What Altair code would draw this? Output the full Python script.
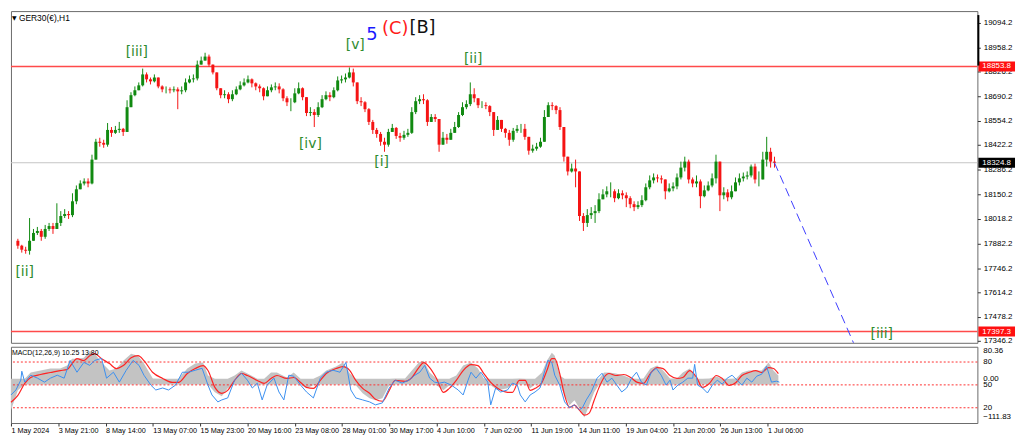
import json
import altair as alt
import numpy as np
import pandas as pd

# ---------------- data ----------------
time_labels = ["1 May 2024", "3 May 21:00", "8 May 14:00", "13 May 07:00", "15 May 23:00",
               "20 May 16:00", "23 May 08:00", "28 May 01:00", "30 May 17:00", "4 Jun 10:00",
               "7 Jun 02:00", "11 Jun 19:00", "14 Jun 11:00", "19 Jun 04:00", "21 Jun 20:00",
               "26 Jun 13:00", "1 Jul 06:00"]
label_every = 12          # bars between time labels
label_start = -0.5

first_open = 17896
close = [17869, 17847, 17841, 17896, 17939, 17950, 17918, 17961, 17977, 17961,
         17994, 18032, 18043, 18037, 18113, 18179, 18211, 18222, 18211, 18342,
         18440, 18434, 18424, 18505, 18489, 18505, 18511, 18494, 18630, 18696,
         18723, 18750, 18810, 18783, 18772, 18793, 18744, 18728, 18728, 18723,
         18728, 18717, 18723, 18766, 18783, 18788, 18864, 18886, 18908, 18864,
         18821, 18734, 18696, 18701, 18674, 18701, 18728, 18750, 18766, 18783,
         18761, 18744, 18734, 18690, 18723, 18739, 18744, 18728, 18679, 18657,
         18657, 18706, 18734, 18685, 18598, 18603, 18587, 18630, 18674, 18696,
         18685, 18723, 18777, 18783, 18793, 18821, 18766, 18663, 18657, 18619,
         18549, 18505, 18483, 18440, 18424, 18494, 18516, 18472, 18462, 18478,
         18489, 18603, 18663, 18674, 18668, 18549, 18576, 18565, 18424, 18462,
         18451, 18489, 18521, 18587, 18630, 18647, 18701, 18679, 18641, 18641,
         18636, 18603, 18505, 18560, 18511, 18489, 18451, 18500, 18511, 18511,
         18467, 18391, 18402, 18413, 18440, 18576, 18641, 18636, 18614, 18521,
         18358, 18277, 18293, 18277, 18032, 17994, 18037, 18048, 18059, 18124,
         18151, 18168, 18168, 18130, 18157, 18146, 18130, 18097, 18081, 18092,
         18119, 18190, 18228, 18244, 18239, 18233, 18168, 18184, 18195, 18244,
         18298, 18331, 18233, 18211, 18222, 18141, 18173, 18200, 18239, 18331,
         18146, 18162, 18135, 18168, 18217, 18239, 18249, 18255, 18304, 18233,
         18233, 18342, 18385, 18331, 18324.8]
high = [17907, 17874, 17863, 18021, 17961, 17972, 17961, 17983, 17994, 17994,
        18102, 18059, 18070, 18059, 18157, 18200, 18228, 18239, 18239, 18369,
        18456, 18462, 18451, 18543, 18521, 18527, 18549, 18516, 18668, 18712,
        18744, 18766, 18842, 18821, 18793, 18810, 18788, 18750, 18744, 18739,
        18744, 18739, 18744, 18788, 18804, 18810, 18886, 18908, 18929, 18919,
        18864, 18821, 18734, 18723, 18712, 18723, 18744, 18772, 18788, 18804,
        18788, 18766, 18755, 18739, 18744, 18755, 18766, 18761, 18734, 18690,
        18679, 18734, 18766, 18739, 18685, 18630, 18619, 18657, 18696, 18717,
        18712, 18739, 18799, 18804, 18815, 18848, 18842, 18766, 18685, 18663,
        18625, 18560, 18516, 18494, 18462, 18511, 18538, 18521, 18489, 18500,
        18511, 18630, 18685, 18696, 18701, 18674, 18592, 18592, 18565, 18494,
        18483, 18511, 18549, 18603, 18657, 18668, 18766, 18734, 18679, 18663,
        18657, 18641, 18603, 18581, 18560, 18516, 18505, 18516, 18532, 18538,
        18538, 18467, 18424, 18434, 18462, 18614, 18657, 18657, 18641, 18630,
        18521, 18358, 18320, 18342, 18277, 18048, 18070, 18081, 18092, 18157,
        18179, 18195, 18217, 18179, 18179, 18173, 18162, 18141, 18113, 18113,
        18146, 18211, 18255, 18266, 18260, 18255, 18233, 18211, 18217, 18266,
        18331, 18358, 18342, 18244, 18255, 18233, 18200, 18222, 18266, 18369,
        18331, 18190, 18179, 18200, 18244, 18266, 18271, 18277, 18315, 18320,
        18277, 18385, 18467, 18407, 18358]
low = [17852, 17831, 17825, 17820, 17907, 17928, 17896, 17907, 17950, 17934,
       17961, 17977, 18021, 18016, 18026, 18097, 18179, 18200, 18190, 18206,
       18342, 18413, 18407, 18413, 18467, 18483, 18489, 18472, 18494, 18657,
       18690, 18723, 18744, 18766, 18755, 18766, 18734, 18712, 18706, 18706,
       18712, 18619, 18701, 18712, 18761, 18766, 18777, 18864, 18886, 18853,
       18810, 18723, 18679, 18679, 18652, 18663, 18696, 18723, 18744, 18761,
       18739, 18723, 18712, 18668, 18690, 18712, 18723, 18706, 18663, 18636,
       18608, 18652, 18701, 18668, 18581, 18581, 18521, 18576, 18625, 18668,
       18663, 18679, 18717, 18761, 18766, 18788, 18744, 18647, 18636, 18603,
       18532, 18483, 18462, 18418, 18385, 18413, 18494, 18456, 18440, 18451,
       18467, 18483, 18592, 18647, 18647, 18527, 18549, 18549, 18385, 18429,
       18429, 18462, 18489, 18516, 18581, 18619, 18636, 18657, 18625, 18625,
       18619, 18581, 18472, 18516, 18494, 18462, 18418, 18440, 18489, 18489,
       18451, 18369, 18380, 18391, 18407, 18440, 18576, 18614, 18592, 18505,
       18331, 18255, 18271, 18190, 18005, 17950, 17972, 18016, 17994, 18048,
       18124, 18135, 18135, 18108, 18124, 18124, 18081, 18075, 18059, 18070,
       18081, 18113, 18179, 18211, 18217, 18211, 18124, 18162, 18168, 18179,
       18233, 18277, 18211, 18190, 18190, 18075, 18135, 18168, 18190, 18211,
       18059, 18124, 18113, 18124, 18168, 18200, 18222, 18233, 18244, 18211,
       18195, 18266, 18304, 18298, 18298]

price_ticks = [19094.2, 18958.2, 18826.2, 18690.2, 18554.2, 18422.2, 18286.2,
               18150.2, 18018.2, 17882.2, 17746.2, 17614.2, 17478.2, 17346.2]
red_levels = [18853.8, 17397.3]
last_price = 18324.8
price_min, price_max = 17335.5, 19157.9

projection_t = [194, 216]
projection_p = [18324.8, 17250]

wave_text = ["[ii]", "[iii]", "[iv]", "[v]", "5", "(C)", "[B]", "[i]", "[ii]", "[iii]"]
wave_t = [1.75, 30.5, 75, 86.5, 90.75, 96.75, 103.75, 93.25, 116.75, 221.5]
wave_p = [17727, 18935, 18429, 18973, 19027, 19060, 19065, 18331, 18897, 17384]
wave_color = ["#2e8b2e", "#2e8b2e", "#2e8b2e", "#2e8b2e", "#1a1aff", "#ff1a1a", "#111111",
              "#2e8b2e", "#2e8b2e", "#2e8b2e"]
wave_size = [14, 14, 14, 14, 18, 18, 18, 14, 14, 14]

macd_t = [-0.5, 1.25, 3, 4.5, 7, 9.5, 12, 13.75, 15, 16.25, 18, 19.5, 20.75, 22.5, 24.5, 26.25,
          28, 30, 31.75, 33.25, 35.5, 38, 40.5, 42, 44.25, 46.25, 48.25, 49.5, 51.25, 53, 54.5,
          56.25, 58, 59.5, 62, 63.75, 65.5, 67, 69.5, 71.25, 73, 74.5, 76.25, 78, 79.5, 82,
          83.75, 85.5, 87, 88.75, 90.5, 92, 93.75, 95.5, 97, 99.5, 101.25, 103, 104.25, 105.75,
          107.5, 109.25, 110.75, 112.5, 114.25, 116.25, 118, 119.5, 121.25, 123, 125.5, 126.75,
          128.5, 130, 131.25, 132.5, 134.25, 135.5, 136.75, 137.5, 138.75, 140, 141.25, 142.5,
          143.75, 145, 146.25, 147.5, 148.75, 150, 151.25, 153, 155, 156.75, 158.5, 160,
          161.75, 163.5, 165, 166.75, 168.5, 170, 171.75, 173.5, 175, 176.75, 178.5, 180,
          181.75, 183.5, 185, 186.75, 188.5, 190, 191.75, 193, 194.25]
macd_main = [-90.6, -33.4, -4.9, 18, 23.7, 29.4, 29.4, 38, 58, 58,
             60.9, 80.4, 72.3, 46.6, 23.7, 29.4, 52.3, 72.3, 66.6, 43.7,
             0.9, -16.3, -16.3, -4.9, 29.4, 43.7, 46.6, 9.4, -39.1, -50.6,
             -27.7, 9.4, 23.7, 15.1, -4.9, -10.6, 18, 18, 3.7, 18,
             -4.9, -27.7, -19.1, 9.4, 23.7, 35.1, 46.6, 15.1, -19.1, -42,
             -56.3, -62, -56.3, -19.1, 0.9, 0.9, 23.7, 46.6, 52.3, 18,
             -19.1, -33.4, -19.1, 9.4, 38, 46.6, 29.4, 0.9, -19.1, -33.4,
             -27.7, -13.4, 0.9, -4.9, -27.7, -13.4, 18, 52.3, 75.1, 66.6,
             9.4, -47.7, -76.3, -62, -84.9, -111.8, -76.3, -39.1, -4.9, 18,
             18, 15.1, 9.4, 0.9, -10.6, 0.9, 29.4, 38, 23.7, 0.9,
             0.9, 18, 29.4, -4.9, -16.3, 0.9, 6.6, -4.9, -10.6, 0.9,
             18, 23.7, 23.7, 23.7, 46.6, 23.7, 9.4]
macd_signal = [-67.7, -47.7, -13.4, 3.7, 12.3, 18, 23.7, 26.6, 43.7, 58,
               52.3, 66.6, 72.3, 58, 43.7, 29.4, 38, 60.9, 66.6, 52.3,
               18, 0.9, -10.6, -10.6, 15.1, 29.4, 38, 23.7, -24.9, -42,
               -33.4, -4.9, 15.1, 9.4, -4.9, -13.4, 0.9, 9.4, 0.9, 3.7,
               -10.6, -24.9, -27.7, -4.9, 15.1, 29.4, 35.1, 23.7, -4.9, -27.7,
               -42, -59.1, -64.9, -33.4, -4.9, -7.7, 3.7, 32.3, 46.6, 32.3,
               0.9, -39.1, -27.7, -4.9, 23.7, 40.9, 38, 15.1, -10.6, -27.7,
               -39.1, -39.1, -4.9, -4.9, -33.4, -27.7, -10.6, 23.7, 58, 58,
               15.1, -47.7, -82, -76.3, -90.6, -105, -99.1, -62, -24.9, 3.7,
               15.1, 9.4, 12.3, 3.7, -10.6, -13.4, 15.1, 32.3, 29.4, 9.4,
               0.9, 3.7, 23.7, 3.7, -24.9, -13.4, 9.4, 0.9, -19.1, -10.6,
               9.4, 18, 23.7, 18, 32.3, 29.4, 15.1]
hist_floor = -16.3
macd_domain = [-127.7, 92.3]
macd_marks = [80.36, 0.0, -111.83]

osc_t = [-0.5, 0.75, 2, 2.25, 3, 4.5, 6.25, 8, 9.5, 11.25, 13, 14.5, 16.25, 18, 19.5, 20.75,
         22.5, 23.75, 25.5, 27, 28.75, 30.5, 32, 33.25, 35, 36.25, 38, 39.5, 41.25, 43,
         44.5, 46.25, 48, 49.5, 50.5, 52, 53, 54.5, 56.25, 58, 59.5, 60.75, 62, 63.25, 64.5,
         66.25, 67.5, 68.75, 70, 71.25, 73, 74.5, 76.25, 78, 79.5, 81.25, 83, 84.5, 85.75, 87,
         88.75, 90.5, 92, 93.75, 95.5, 97, 98.75, 100.5, 102, 103.25, 104.5, 105.75, 107,
         108.25, 109.5, 111.25, 113, 114.25, 115.5, 116.25, 117.5, 118.75, 120.5, 121.25,
         122.5, 123.75, 125.5, 126.75, 128, 128.75, 130, 131.25, 132.5, 133.75, 135, 135.75,
         136.75, 137.5, 138.75, 140, 141.25, 142.5, 143.75, 144.5, 145.5, 146.75, 148.25,
         149.5, 150.75, 152, 153.25, 154.5, 155.75, 157, 158.25, 159.5, 160.75, 162, 163.25,
         164.5, 165.75, 166.75, 167.5, 168.75, 170, 171.25, 172.5, 173, 173.75, 175, 176.25,
         177.5, 178.75, 180, 181.25, 182.5, 183.75, 185, 186.25, 187.5, 188.75, 190, 191.25,
         192.5, 193.75, 194.5]
osc_v = [36.8, 43.3, 56.2, 67.9, 53.6, 62.7, 58.8, 53.6, 58.8, 62.7,
         58.8, 82.1, 66.6, 79.5, 75.6, 82.1, 84.7, 58.8, 66.6, 53.6,
         69.2, 82.1, 75.6, 62.7, 49.7, 43.3, 45.9, 43.3, 49.7, 66.6,
         66.6, 69.2, 71.8, 49.7, 36.8, 27.7, 30.3, 32.9, 56.2, 65.3,
         56.2, 45.9, 52.3, 30.3, 49.7, 58.8, 40.7, 30.3, 62.7, 61.4,
         49.7, 40.7, 32.9, 58.8, 66.6, 69.2, 66.6, 79.5, 43.3, 32.9,
         30.3, 27.7, 23.8, 26.4, 45.9, 56.2, 52.3, 56.2, 62.7, 66.6,
         75.6, 58.8, 53.6, 52.3, 53.6, 49.7, 43.3, 36.8, 56.2, 66.6,
         58.8, 66.6, 53.6, 23.8, 45.9, 40.7, 43.3, 52.3, 49.7, 36.8,
         27.7, 36.8, 40.7, 45.9, 69.2, 82.1, 79.5, 62.7, 49.7, 27.7,
         19.9, 23.8, 17.4, 19.9, 30.3, 40.7, 58.8, 65.3, 53.6, 58.8,
         49.7, 40.7, 45.9, 58.8, 66.6, 53.6, 49.7, 66.6, 71.8, 62.7,
         49.7, 56.2, 43.3, 49.7, 53.6, 58.8, 58.8, 76.9, 49.7, 45.9,
         39.4, 49.7, 56.2, 51, 58.8, 62.7, 56.2, 49.7, 58.8, 53.6,
         61.4, 64, 74.4, 53.6, 54.9, 53.6]
osc_levels = [80, 50, 20]

# ---------------- tables ----------------
bars = pd.DataFrame({"t": np.arange(len(close)), "close": close, "high": high, "low": low})
bars["open"] = [first_open] + close[:-1]
bars["top"] = bars[["high", "open", "close"]].max(axis=1)
bars["bot"] = bars[["low", "open", "close"]].min(axis=1)
bars["dir"] = np.where(bars["close"] >= bars["open"], "up", "down")

macd_df = pd.DataFrame({"t": macd_t, "main": macd_main, "signal": macd_signal})
macd_df["hi"] = macd_df["main"].clip(lower=0)
macd_df["lo"] = macd_df["main"].clip(upper=hist_floor)
osc_df = pd.DataFrame({"t": osc_t, "v": osc_v})

GREEN, RED = "#118a11", "#f51414"
FONT = "Liberation Sans"
W, HP, HM = 976, 335, 77

x_scale = alt.Scale(domain=[-0.5, 244.75], nice=False, zero=False)
p_scale = alt.Scale(domain=[price_min, price_max], nice=False, zero=False)
m_scale = alt.Scale(domain=macd_domain, nice=False, zero=False)
o_scale = alt.Scale(domain=[0, 100], nice=False, zero=False)
color_enc = alt.Color("dir:N", scale=alt.Scale(domain=["up", "down"], range=[GREEN, RED]), legend=None)
X_none = alt.X("t:Q", scale=x_scale, axis=None)

p_axis = alt.Axis(orient="right", values=price_ticks, format=".1f", title=None,
                  labelFontSize=8, labelFont=FONT, labelColor="black", tickColor="#333",
                  tickSize=3, labelPadding=3, domain=False, grid=False, zindex=0,
                  labelOverlap=False, labelBound=False, labelFlush=False)


def PY(field):
    return alt.Y(field, scale=p_scale, axis=p_axis)


# ---------------- price panel ----------------
levels = alt.Chart(pd.DataFrame({"p": red_levels})).mark_rule(color="#ff4a4a", strokeWidth=1.4).encode(
    y=PY("p:Q"))
cur = alt.Chart(pd.DataFrame({"p": [last_price]})).mark_rule(color="#c4c4c4", strokeWidth=1).encode(
    y=PY("p:Q"))
wicks = alt.Chart(bars).mark_rule(strokeWidth=1).encode(
    x=X_none, y=PY("bot:Q"), y2="top:Q", color=color_enc)
bodies = alt.Chart(bars).mark_bar(size=3.0).encode(
    x=X_none, y=PY("open:Q"), y2="close:Q", color=color_enc)
proj = alt.Chart(pd.DataFrame({"t": projection_t, "p": projection_p})).mark_line(
    color="#3d3dff", strokeDash=[9, 5], strokeWidth=1, clip=True).encode(
    x=X_none, y=PY("p:Q"))
waves = alt.Chart(pd.DataFrame({"t": wave_t, "p": wave_p, "txt": wave_text, "c": wave_color,
                                "s": wave_size})).mark_text(font="DejaVu Sans", align="center",
                                                            baseline="middle").encode(
    x=X_none, y=PY("p:Q"), text="txt:N",
    color=alt.Color("c:N", scale=None), size=alt.Size("s:Q", scale=None))
box_df = pd.DataFrame({"p": [red_levels[0], last_price, red_levels[1]],
                       "bg": ["#ff1010", "#000000", "#ff1010"]})
boxes = alt.Chart(box_df).mark_rect(yOffset=-5, y2Offset=5).encode(
    x=alt.value(W + 1), x2=alt.value(W + 38), y=PY("p:Q"), y2="p:Q",
    color=alt.Color("bg:N", scale=None))
box_txt = alt.Chart(box_df).mark_text(align="left", baseline="middle", color="white",
                                      fontSize=8, font=FONT).encode(
    x=alt.value(W + 5), y=PY("p:Q"), text=alt.Text("p:Q", format=".1f"))
title = alt.Chart(pd.DataFrame({"s": ["GER30(€),H1"]})).mark_text(
    align="left", baseline="middle", fontSize=8.5, font=FONT, color="black").encode(
    x=alt.value(8), y=alt.value(7), text="s:N")
tri = alt.Chart(pd.DataFrame({"s": ["▼"]})).mark_text(
    align="left", baseline="middle", fontSize=6, font="DejaVu Sans", color="black").encode(
    x=alt.value(1), y=alt.value(7), text="s:N")
sbar = alt.Chart(pd.DataFrame({"s": [0]})).mark_rule(color="black", strokeWidth=2).encode(
    x=alt.value(W + 1), y=alt.value(4), y2=alt.value(55))

price = alt.layer(cur, levels, wicks, bodies, proj, waves, boxes, box_txt, title, tri, sbar).properties(
    width=W, height=HP)

# ---------------- MACD panel ----------------
label_vals = [label_start + label_every * k for k in range(len(time_labels))]
x_axis = alt.Axis(values=label_vals,
                  labelExpr=f"{json.dumps(time_labels)}[round((datum.value - ({label_start})) / {label_every})]",
                  labelAlign="left", labelBaseline="top", labelFontSize=7.3, labelFont=FONT,
                  labelColor="black", tickColor="#333", tickSize=3, labelPadding=1, domain=False,
                  grid=False, title=None, labelOverlap=False, labelFlush=False, labelBound=False)
MX = alt.X("t:Q", scale=x_scale, axis=x_axis)

hist = alt.Chart(macd_df).mark_area(color="#c3c3c3").encode(
    x=MX, y=alt.Y("hi:Q", scale=m_scale, axis=None), y2="lo:Q")
lev = alt.Chart(pd.DataFrame({"lv": osc_levels})).mark_rule(
    color="#ff3030", strokeDash=[2, 2], strokeWidth=1).encode(
    y=alt.Y("lv:Q", scale=o_scale, axis=None))
sig = alt.Chart(macd_df).mark_line(color="#ff2323", strokeWidth=1.2, interpolate="monotone").encode(
    x=MX, y=alt.Y("signal:Q", scale=m_scale, axis=None))
osc = alt.Chart(osc_df).mark_line(color="#3a8ff0", strokeWidth=1).encode(
    x=MX, y=alt.Y("v:Q", scale=o_scale, axis=None))
lev_txt = alt.Chart(pd.DataFrame({"lv": osc_levels})).mark_text(
    align="left", baseline="middle", fontSize=8, font=FONT, color="black").encode(
    x=alt.value(W + 6), y=alt.Y("lv:Q", scale=o_scale, axis=None), text=alt.Text("lv:Q", format="d"))
ext_txt = alt.Chart(pd.DataFrame({"v": macd_marks})).mark_text(
    align="left", baseline="middle", fontSize=8, font=FONT, color="black").encode(
    x=alt.value(W + 6), y=alt.Y("v:Q", scale=m_scale, axis=None), text=alt.Text("v:Q", format=".2f"))
m_title = alt.Chart(pd.DataFrame({"s": ["MACD(12,26,9) 10.25 13.80"]})).mark_text(
    align="left", baseline="middle", fontSize=7, font=FONT, color="black").encode(
    x=alt.value(1), y=alt.value(6), text="s:N")

macd = alt.layer(hist, lev, sig, osc, lev_txt, ext_txt, m_title).resolve_scale(y="independent").properties(
    width=W, height=HM)

chart = alt.vconcat(price, macd, spacing=0).resolve_scale(x="independent", y="independent").properties(
    padding=0, background="white").configure_view(stroke="#6a6a6a", strokeWidth=1)

chart.save("out.html", embed_options={"renderer": "svg", "actions": False})
